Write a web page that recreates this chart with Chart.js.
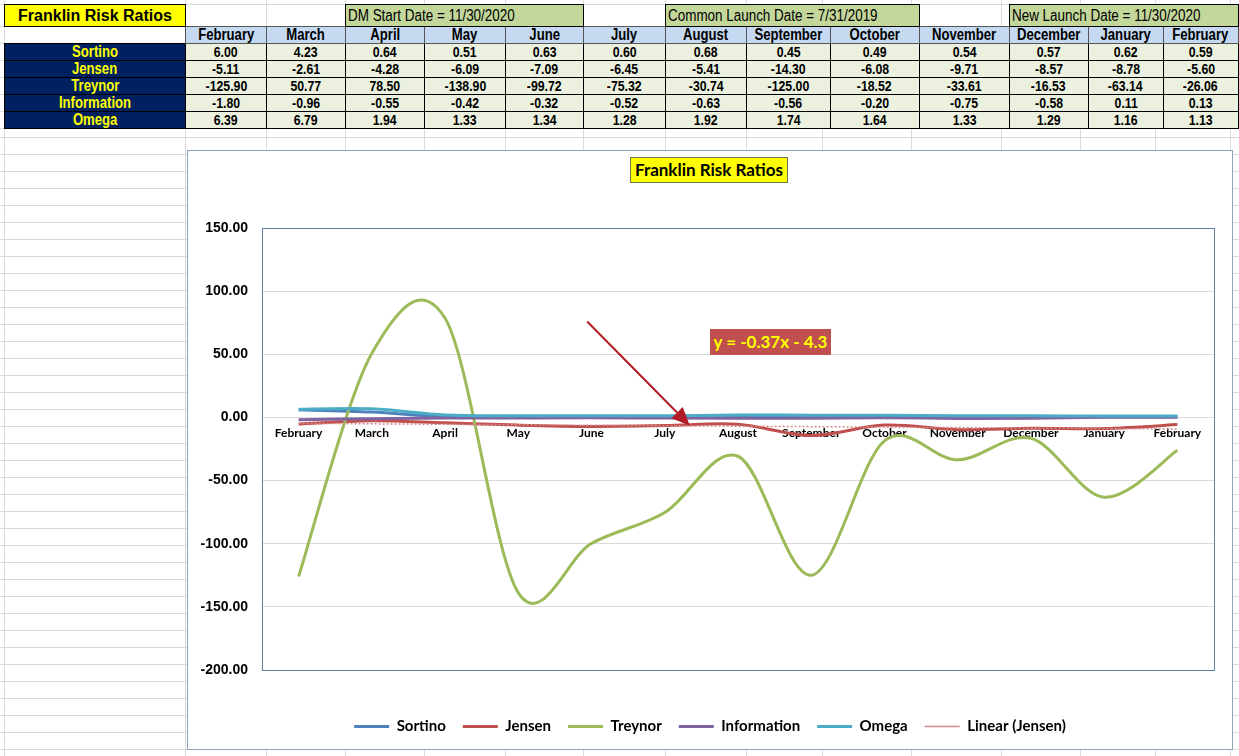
<!DOCTYPE html>
<html>
<head>
<meta charset="utf-8">
<title>Franklin Risk Ratios</title>
<script src="https://cdn.jsdelivr.net/npm/chart.js@4.4.1/dist/chart.umd.min.js"></script>
<style>
  body { margin: 0; width: 1239px; height: 756px; overflow: hidden; background: #fff; position: relative; }
  .vline { position: absolute; top: 0; height: 756px; width: 1px; background: #dadada; }
  .hline { position: absolute; left: 0; width: 1239px; height: 1px; background: #dadada; }
  #grid { position: absolute; left: 4px; top: 4px; border-collapse: collapse; table-layout: fixed;
          font-family: "Liberation Sans", Arial, sans-serif; font-weight: bold; font-size: 15px; color: #000; }
  #grid td { padding: 0; height: 16px; line-height: 16px; text-align: center; white-space: nowrap; overflow: hidden; }
  #grid tr.top td { height: 21px; line-height: 21px; }
  #grid td span { display: inline-block; transform: scaleX(0.82); }
  #grid td.title { background: #ffff00; border: 1px solid #000; font-size: 16px; }
  #grid td.title span { transform: none; }
  #grid td.note { background: #c4d79b; border: 1px solid #000; font-weight: normal; font-size: 16px; text-align: left; padding-left: 2px; }
  #grid td.note span { transform: scaleX(0.84); transform-origin: left center; }
  #grid td.month { background: #c5d9f1; border: 1px solid #555; font-size: 16px; }
  #grid td.name { background: #002060; color: #ffff00; border: 1px solid #000; font-size: 16px; }
  #grid td.val { background: #ebf1de; border: 1px solid #000; }
  #chartBox { position: absolute; left: 187px; top: 150px; width: 1046px; height: 600px; box-sizing: border-box;
              border: 1px solid #8ea3bb; background: #fff; }
  #chartWrap { position: relative; width: 1044px; height: 598px; }
  #chartTitle { position: absolute; left: 630px; top: 157px; width: 158px; height: 26px; box-sizing: border-box;
                background: #ffff00; border: 1px solid #6b7a52; font: bold 17px Lato, sans-serif; text-align: center; line-height: 24px; }
  #trendEq { position: absolute; left: 710px; top: 329px; width: 121px; height: 26px; background: #c0504d; color: #ffff00;
             font: bold 17px Lato, sans-serif; text-align: center; line-height: 26px; }
</style>
</head>
<body>
<div id="lines"></div>
<table id="grid"></table>
<div id="chartBox"><div id="chartWrap"><canvas id="riskChart"></canvas></div></div>
<div id="chartTitle">Franklin Risk Ratios</div>
<div id="trendEq"></div>
<script>
const months = ["February", "March", "April", "May", "June", "July", "August", "September", "October", "November", "December", "January", "February"];
const seriesNames = ["Sortino", "Jensen", "Treynor", "Information", "Omega"];
const sortino = [6.00, 4.23, 0.64, 0.51, 0.63, 0.60, 0.68, 0.45, 0.49, 0.54, 0.57, 0.62, 0.59];
const jensen = [-5.11, -2.61, -4.28, -6.09, -7.09, -6.45, -5.41, -14.30, -6.08, -9.71, -8.57, -8.78, -5.60];
const treynor = [-125.90, 50.77, 78.50, -138.90, -99.72, -75.32, -30.74, -125.00, -18.52, -33.61, -16.53, -63.14, -26.06];
const information = [-1.80, -0.96, -0.55, -0.42, -0.32, -0.52, -0.63, -0.56, -0.20, -0.75, -0.58, 0.11, 0.13];
const omega = [6.39, 6.79, 1.94, 1.33, 1.34, 1.28, 1.92, 1.74, 1.64, 1.33, 1.29, 1.16, 1.13];
// linear trendline of Jensen, value at first and last month
const jensenTrend = [-4.70, -9.16];
const trendText = "y = -0.37x - 4.3";
const yTickValues = [150, 100, 50, 0, -50, -100, -150, -200];
// date notes above the month headers: first month index and how many months they cover
const noteTexts = ["DM Start Date = 11/30/2020", "Common Launch Date = 7/31/2019", "New Launch Date = 11/30/2020"];
const noteStart = [2, 6, 10];
const noteSpan = [3, 3, 3];

const seriesValues = [sortino, jensen, treynor, information, omega];
const seriesColors = ["#4f81bd", "#c0504d", "#9bbb59", "#8064a2", "#4bacc6"];

// spreadsheet background grid
const colEdges = [4, 185, 266, 345, 424, 505, 583, 665, 746, 822, 911, 1001, 1080, 1155, 1230];
const lines = document.getElementById("lines");
colEdges.forEach((x) => {
  const d = document.createElement("div");
  d.className = "vline";
  d.style.left = x + "px";
  lines.appendChild(d);
});
const rowEdges = [4, 26, 43, 60, 77, 94, 111, 128];
for (let y = 137; y < 756; y += 17) rowEdges.push(y);
rowEdges.forEach((y) => {
  const d = document.createElement("div");
  d.className = "hline";
  d.style.top = y + "px";
  lines.appendChild(d);
});

// table
const grid = document.getElementById("grid");
const cg = document.createElement("colgroup");
for (let i = 0; i < colEdges.length - 1; i++) {
  const c = document.createElement("col");
  c.style.width = colEdges[i + 1] - colEdges[i] + "px";
  cg.appendChild(c);
}
grid.appendChild(cg);

let tr = document.createElement("tr");
tr.className = "top";
tr.innerHTML = '<td class="title"><span>Franklin Risk Ratios</span></td>';
for (let i = 0; i < months.length; i++) {
  const n = noteStart.indexOf(i);
  if (n >= 0) {
    tr.innerHTML += `<td class="note" colspan="${noteSpan[n]}"><span>${noteTexts[n]}</span></td>`;
    i += noteSpan[n] - 1;
  } else {
    tr.innerHTML += "<td></td>";
  }
}
grid.appendChild(tr);

tr = document.createElement("tr");
tr.innerHTML = "<td></td>" + months.map((m) => `<td class="month"><span>${m}</span></td>`).join("");
grid.appendChild(tr);

seriesNames.forEach((name, s) => {
  const row = document.createElement("tr");
  row.innerHTML = `<td class="name"><span>${name}</span></td>` +
    seriesValues[s].map((v) => `<td class="val"><span>${v.toFixed(2)}</span></td>`).join("");
  grid.appendChild(row);
});

document.getElementById("trendEq").textContent = trendText;

// chart
Chart.defaults.font.family = "Lato";
Chart.defaults.color = "#000";

const trendData = months.map(() => null);
trendData[0] = jensenTrend[0];
trendData[months.length - 1] = jensenTrend[1];

const datasets = seriesNames.map((name, s) => ({
  label: name,
  data: seriesValues[s],
  xAxisID: "x",
  yAxisID: "y",
  borderColor: seriesColors[s],
  backgroundColor: seriesColors[s],
  borderWidth: 3,
  pointRadius: 0,
  tension: 0.4,
  order: 10 - s,
}));
datasets.push({
  label: "Linear (Jensen)",
  data: trendData,
  xAxisID: "x",
  yAxisID: "y",
  spanGaps: true,
  borderColor: "#d38a88",
  backgroundColor: "#d38a88",
  borderWidth: 1.5,
  borderDash: [2, 2],
  pointRadius: 0,
  tension: 0,
  order: 1,
});

// arrow pointing at the trendline, in data units (category index, value)
const arrowFrom = [3.94, 76];
const arrowTo = [5.34, -6.3];

// Excel style smoothed lines: control points a sixth of the way to the neighbours
const excelSmooth = {
  id: "excelSmooth",
  beforeDatasetDraw(chart, args) {
    const meta = args.meta;
    const line = meta.dataset;
    if (!line || !line.options.tension || !line.updateControlPoints) return;
    line.updateControlPoints(chart.chartArea, meta.iScale.axis);
    const pts = meta.data;
    for (let i = 0; i < pts.length; i++) {
      const p = pts[i];
      const prev = pts[Math.max(i - 1, 0)];
      const next = pts[Math.min(i + 1, pts.length - 1)];
      const dx = (next.x - prev.x) / 6;
      const dy = (next.y - prev.y) / 6;
      p.cp1x = p.x - dx;
      p.cp1y = p.y - dy;
      p.cp2x = p.x + dx;
      p.cp2y = p.y + dy;
    }
  },
};

const plotBorder = {
  id: "plotBorder",
  beforeDatasetsDraw(chart) {
    const { ctx, chartArea: a } = chart;
    ctx.save();
    ctx.strokeStyle = "#5f7fa3";
    ctx.lineWidth = 1;
    ctx.strokeRect(a.left + 0.5, a.top + 0.5, a.width, a.height);
    ctx.restore();
  },
};

const trendArrow = {
  id: "trendArrow",
  afterDatasetsDraw(chart) {
    const { ctx, scales } = chart;
    const x1 = scales.x.getPixelForValue(arrowFrom[0]);
    const y1 = scales.y.getPixelForValue(arrowFrom[1]);
    const x2 = scales.x.getPixelForValue(arrowTo[0]);
    const y2 = scales.y.getPixelForValue(arrowTo[1]);
    const ang = Math.atan2(y2 - y1, x2 - x1);
    const cos = Math.cos(ang), sin = Math.sin(ang);
    const head = 18, half = 8;
    const bx = x2 - head * cos, by = y2 - head * sin;
    ctx.save();
    ctx.strokeStyle = "#b01c26";
    ctx.fillStyle = "#b01c26";
    ctx.lineWidth = 2;
    ctx.beginPath();
    ctx.moveTo(x1, y1);
    ctx.lineTo(bx, by);
    ctx.stroke();
    ctx.beginPath();
    ctx.moveTo(x2, y2);
    ctx.lineTo(bx + half * sin, by - half * cos);
    ctx.lineTo(bx - half * sin, by + half * cos);
    ctx.closePath();
    ctx.fill();
    ctx.restore();
  },
};

new Chart(document.getElementById("riskChart"), {
  type: "line",
  data: { labels: months, datasets: datasets },
  plugins: [excelSmooth, plotBorder, trendArrow],
  options: {
    responsive: true,
    maintainAspectRatio: false,
    animation: false,
    layout: { padding: { top: 77, right: 0, bottom: 5, left: 0 } },
    scales: {
      x: {
        type: "category",
        position: { y: 0 },
        offset: true,
        grid: { display: false, drawTicks: false },
        border: { display: false },
        ticks: { padding: 8, maxRotation: 0, autoSkip: false, font: { size: 12, weight: "bold" } },
      },
      y: {
        min: yTickValues[yTickValues.length - 1],
        max: yTickValues[0],
        afterFit: (s) => { s.width = 74; },
        afterBuildTicks: (s) => { s.ticks = yTickValues.map((v) => ({ value: v })); },
        grid: { color: "#d9d9d9", drawTicks: false },
        border: { display: false },
        ticks: {
          padding: 14,
          font: { family: "Liberation Sans", size: 14, weight: "bold" },
          callback: (v) => Number(v).toFixed(2),
        },
      },
      // empty axes that only keep room below and right of the plot
      x2: {
        type: "category",
        position: "bottom",
        grid: { display: false, drawTicks: false },
        border: { display: false },
        ticks: { display: false },
        afterFit: (s) => { s.height = 32; },
      },
      y2: {
        position: "right",
        grid: { display: false, drawTicks: false },
        border: { display: false },
        ticks: { display: false },
        afterFit: (s) => { s.width = 18; },
      },
    },
    plugins: {
      tooltip: { enabled: false },
      legend: {
        position: "bottom",
        labels: {
          usePointStyle: true,
          pointStyle: "line",
          pointStyleWidth: 35,
          padding: 17,
          font: { size: 15, weight: "bold" },
          sort: (a, b) => a.datasetIndex - b.datasetIndex,
        },
      },
    },
  },
});
</script>
</body>
</html>
